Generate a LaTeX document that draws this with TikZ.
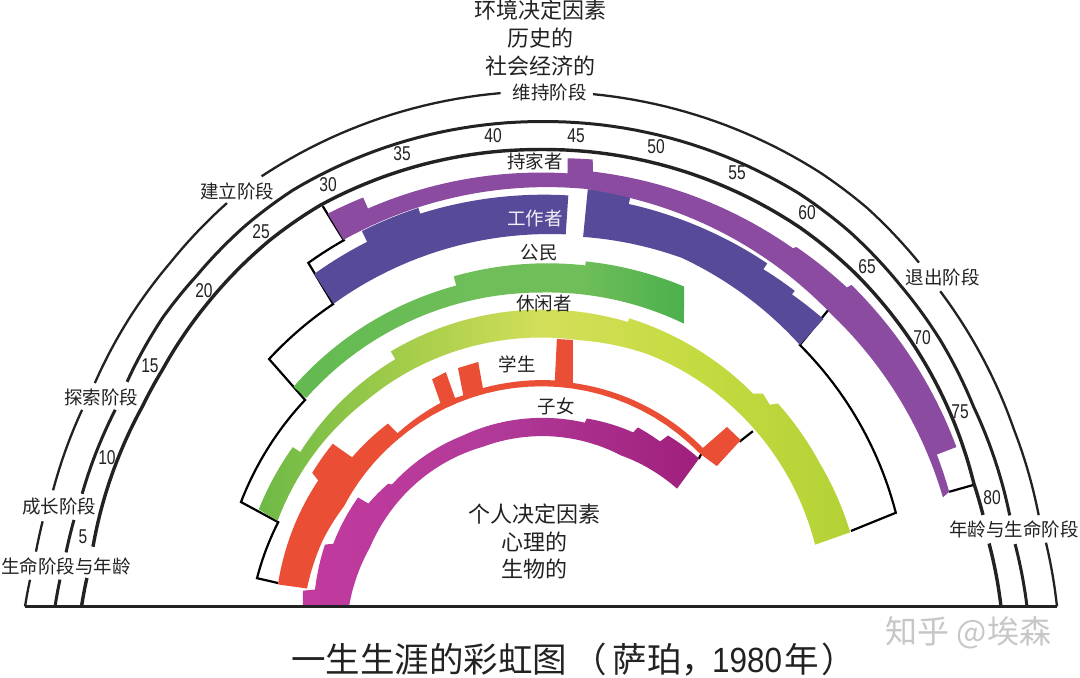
\documentclass[tikz,border=0pt]{standalone}
\usepackage{fontspec}
\setmainfont{Noto Sans CJK SC}
\newfontfamily\numf[FakeStretch=0.78]{Liberation Sans}
\newfontfamily\ttlnum[FakeStretch=0.9]{Liberation Sans}
\newcommand\Sp[4]{-- plot[domain=#1:#2,samples=24] (\x:{#3+(#4-(#3))*(\x-(#1))/((#2)-(#1))})}
\definecolor{leisA}{HTML}{6DB946}
\definecolor{leisB}{HTML}{A2CC4A}
\definecolor{leisC}{HTML}{D3DF5A}
\definecolor{leisD}{HTML}{C6DB42}
\definecolor{leisE}{HTML}{B3D235}
\definecolor{citA}{HTML}{63BA50}
\definecolor{citB}{HTML}{6FBE5A}
\definecolor{citC}{HTML}{4BB04D}
\definecolor{chiA}{HTML}{C23A9E}
\definecolor{chiB}{HTML}{B03A98}
\definecolor{chiC}{HTML}{A01F7C}
\definecolor{homeC}{HTML}{8B4BA0}
\definecolor{workC}{HTML}{574B99}
\definecolor{redC}{HTML}{EA4F36}
\definecolor{inkC}{HTML}{222222}
\pgfdeclarehorizontalshading{leisureS}{100bp}{color(0bp)=(leisA);color(25bp)=(leisA);color(37bp)=(leisB);color(49bp)=(leisC);color(61bp)=(leisD);color(75bp)=(leisE);color(100bp)=(leisE)}
\pgfdeclarehorizontalshading{citizenS}{100bp}{color(0bp)=(citA);color(25bp)=(citA);color(50bp)=(citB);color(62bp)=(citB);color(75bp)=(citC);color(100bp)=(citC)}
\pgfdeclarehorizontalshading{childS}{100bp}{color(0bp)=(chiA);color(25bp)=(chiA);color(50bp)=(chiB);color(75bp)=(chiC);color(100bp)=(chiC)}
\tikzset{
  arcA/.style={draw=inkC,line width=2.3pt,line join=round},
  arcB/.style={draw=inkC,line width=3pt,line join=round},
  arcC/.style={draw=inkC,line width=3.4pt,line join=round},
  edgeL/.style={draw=black,line width=2.2pt,line join=miter},
  lab/.style={inner sep=0pt,text=inkC,font=\fontsize{18.5}{20}\selectfont},
  big/.style={inner sep=0pt,text=inkC,font=\fontsize{22}{24}\selectfont},
  num/.style={inner sep=0pt,text=inkC,font=\numf\fontsize{20}{22}\selectfont},
}
\begin{document}
\begin{tikzpicture}[x=1pt,y=1pt]
\useasboundingbox (0,0) rectangle (1080,-678);
\fill[white] (0,0) rectangle (1080,-678);
\begin{scope}[shift={(541,-606.5)}]
% boundary of life space
\draw[edgeL] (118.6:456) -- (118.3:416) \Sp{118.3}{124.1}{416}{415} -- (124.5:367) \Sp{124.5}{137.7}{367}{367.7} -- (138.8:313.6) \Sp{138.8}{160.8}{313.6}{317.7} -- (162.2:276) \Sp{162.2}{174.3}{276}{285.4} -- (174.9:264);
\draw[edgeL] (45.9:412.6) -- (45.3:368) \Sp{45.3}{14.8}{368}{367} -- (13.7:319);
\draw[edgeL] (15.7:450) -- (15.7:424);
\draw[edgeL] (43.1:216) -- (44:226);
\draw[edgeL] (39.6:275) -- (39.7:258);
% workers
\fill[workC] (124.3:402.5) \Sp{124.3}{115.5}{402.5}{404} -- (115.5:416) \Sp{115.5}{107.1}{416}{417} -- (107.1:411) \Sp{107.1}{86.2}{411}{412} -- (86.2:373) \Sp{86.2}{124.4}{373}{367} -- cycle;
\fill[workC] (83.6:420) \Sp{83.6}{77.7}{420}{420} -- (77.7:412) \Sp{77.7}{56.6}{412}{411} -- (56.6:404) \Sp{56.6}{51.2}{404}{405} -- (51.2:400.5) \Sp{51.2}{45.5}{400.5}{403} -- (45.3:368) \Sp{45.3}{68}{368}{376} \Sp{68}{83.5}{376}{372} -- cycle;
% homemaker
\fill[homeC] (118.5:447) \Sp{118.5}{113.5}{447}{446} -- (113.5:434) \Sp{113.5}{86.5}{434}{434} -- (86.6:449) \Sp{86.6}{83.4}{449}{450} -- (83.2:438) \Sp{83.2}{54.9}{438}{438} -- (54.6:441) \Sp{54.6}{46.2}{441}{442} -- (46:447) \Sp{46}{21}{447}{445} -- (21:424) \Sp{21}{15.7}{424}{424} -- (15.2:416.5) \Sp{15.2}{45}{416.5}{412} \Sp{45}{77}{412}{418} \Sp{77}{84}{418}{420} \Sp{84}{118.3}{420}{416.5} -- cycle;
% citizen
\shade[shading=citizenS] (138.4:331) \Sp{138.4}{104.8}{331}{332} -- (104.8:341.5) \Sp{104.8}{82.6}{341.5}{344} -- (82.6:348) \Sp{82.6}{65.9}{348}{350.5} -- (63.2:317) \Sp{63.2}{90}{317}{314} \Sp{90}{138.4}{314}{314} -- cycle;
% leisure
\shade[shading=leisureS] (161:298.5) \Sp{161}{147.3}{298.5}{295} -- (147.3:286) \Sp{147.3}{120.5}{286}{287} -- (120.5:296) \Sp{120.5}{73}{296}{297.5} -- (73:301.4) \Sp{73}{45.1}{301.4}{300.5} -- (43.8:307.6) -- (41.4:305) -- (40.6:312) \Sp{40.6}{27.1}{312}{313.5} \Sp{27.1}{13.5}{313.5}{318} -- (12.7:281) \Sp{12.7}{67}{281}{274} \Sp{67}{82}{274}{269} \Sp{82}{100}{269}{269} \Sp{100}{130}{269}{270} \Sp{130}{162}{270}{277} -- cycle;
% student
\fill[redC] (175.2:264) \Sp{175.2}{150.5}{264}{256} -- (149.7:265) \Sp{149.7}{142}{265}{264.3} -- (141.7:240.7) \Sp{141.7}{129.9}{240.7}{238.5} -- (129.6:225) \Sp{129.6}{116.3}{225}{227} -- (115.6:252) -- (112.1:253) -- (112.4:225.5) \Sp{112.4}{110.2}{225.5}{225} -- (109.2:252.5) -- (104.4:252.5) -- (104.9:226) \Sp{104.9}{86.5}{226}{226.5} -- (86.6:268) -- (83.2:268.4) -- (81.9:225.8) \Sp{81.9}{44.4}{225.8}{226.6} -- (44:258.5) -- (39.8:260) -- (38.6:225) -- (44:220.5) \Sp{44}{131}{220.5}{220} \Sp{131}{153}{220}{221} \Sp{153}{163}{221}{228} \Sp{163}{175.6}{228}{234.7} -- cycle;
% child
\shade[shading=childS] (180:238) \Sp{180}{176.2}{238}{238.5} -- (175.7:226.6) \Sp{175.7}{164}{226.6}{224.7} -- (163.2:217) \Sp{163.2}{149.2}{217}{213} -- (149.2:201) \Sp{149.2}{141.2}{201}{196} -- (140.7:192.6) \Sp{140.7}{115}{192.6}{188} \Sp{115}{76.6}{188}{189} -- (76.3:193.5) \Sp{76.3}{62.1}{193.5}{197} -- (61.6:203.6) \Sp{61.6}{54.2}{203.6}{203.4} -- (53.4:213) \Sp{53.4}{43.1}{213}{216.5} -- (40.9:180) \Sp{40.9}{62}{180}{171} \Sp{62}{110}{171}{170} \Sp{110}{161}{170}{181} \Sp{161}{180}{181}{192} -- cycle;
% outer arc
\draw[arcA] (180:516) \Sp{180}{177}{516}{511.7};
\draw[arcA] (173.8:508) \Sp{173.8}{170.3}{508}{505.6};
\draw[arcA] (166.6:501.6) \Sp{166.6}{156.8}{501.6}{499.3};
\draw[arcA] (153.4:499) \Sp{153.4}{144.8}{499}{502.7} \Sp{144.8}{137.2}{502.7}{505.6} \Sp{137.2}{127.9}{505.6}{511.3};
\draw[arcA] (123:513) \Sp{123}{94.5}{513}{515};
\draw[arcA] (84.2:515) \Sp{84.2}{57.3}{515}{516} \Sp{57.3}{50.7}{516}{515} \Sp{50.7}{42.3}{515}{511};
\draw[arcA] (38.3:508.7) \Sp{38.3}{30.3}{508.7}{507} \Sp{30.3}{20.5}{507}{505} \Sp{20.5}{10.4}{505}{506};
\draw[arcA] (7.2:509) \Sp{7.2}{0}{509}{516};
% middle arc
\draw[arcB] (180:486) \Sp{180}{176.8}{486}{481.8};
\draw[arcB] (173.5:478) \Sp{173.5}{169.5}{478}{475};
\draw[arcB] (166.2:472.5) \Sp{166.2}{155.2}{472.5}{469};
\draw[arcB] (151.5:471) \Sp{151.5}{142.6}{471}{476} \Sp{142.6}{136.2}{476}{477.5} \Sp{136.2}{128.1}{477.5}{482} \Sp{128.1}{120.8}{482}{484.7} \Sp{120.8}{90}{484.7}{485} \Sp{90}{57.9}{485}{487} \Sp{57.9}{50.5}{487}{485.5} \Sp{50.5}{41.8}{485.5}{482} \Sp{41.8}{33.7}{482}{480} \Sp{33.7}{24.8}{480}{476.5} \Sp{24.8}{11}{476.5}{477.5};
\draw[arcB] (7.5:478.2) \Sp{7.5}{0}{478.2}{486};
% inner arc
\draw[arcC] (180:459.5) \Sp{180}{176.4}{459.5}{455};
\draw[arcC] (172.4:452) \Sp{172.4}{160}{452}{448} \Sp{160}{153.4}{448}{446} \Sp{153.4}{148}{446}{446.5} \Sp{148}{137.2}{446.5}{451} \Sp{137.2}{126.5}{451}{455.8} \Sp{126.5}{118.8}{455.8}{458} \Sp{118.8}{90}{458}{457} \Sp{90}{55.7}{457}{459} \Sp{55.7}{46.7}{459}{458} \Sp{46.7}{35.8}{458}{455.5} \Sp{35.8}{26.6}{455.5}{453} \Sp{26.6}{15.9}{453}{450} \Sp{15.9}{11.7}{450}{451.4};
\draw[arcC] (8:452.5) \Sp{8}{0}{452.5}{460};
\end{scope}
% baseline
\coordinate (baseL) at (25,-606.7);
\coordinate (baseR) at (1057,-606.7);
\draw[draw=inkC,line width=3.2pt,line cap=butt] (baseL) -- (baseR);
% labels
\node[big] (t1) at (540.5,-10) {环境决定因素};
\node[big] (t2) at (540,-38) {历史的};
\node[big] (t3) at (540,-66) {社会经济的};
\node[lab] (stMaint) at (549.5,-92) {维持阶段};
\node[lab] (stEst) at (237,-191) {建立阶段};
\node[lab] (stExpl) at (101,-397) {探索阶段};
\node[lab] (stGrow) at (59.5,-506) {成长阶段};
\node[lab] (stLife) at (66,-566.5) {生命阶段与年龄};
\node[lab] (stExit) at (942.5,-277) {退出阶段};
\node[lab] (stAge) at (1014,-529) {年龄与生命阶段};
\node[lab] (rHome) at (535,-161) {持家者};
\node[lab,text=white!92!workC] (rWork) at (535,-218) {工作者};
\node[lab] (rCit) at (539,-253) {公民};
\node[lab] (rLei) at (544,-303) {休闲者};
\node[lab] (rStu) at (517,-364) {学生};
\node[lab] (rChi) at (556,-406) {子女};
\node[big] (p1) at (534.5,-514) {个人决定因素};
\node[big] (p2) at (534,-542) {心理的};
\node[big] (p3) at (534,-569) {生物的};
\node[num] (n5) at (83,-537) {5};
\node[num] (n10) at (107,-458) {10};
\node[num] (n15) at (150,-366) {15};
\node[num] (n20) at (204,-291) {20};
\node[num] (n25) at (261,-232) {25};
\node[num] (n30) at (328,-185) {30};
\node[num] (n35) at (402,-154) {35};
\node[num] (n40) at (493,-136) {40};
\node[num] (n45) at (576,-136) {45};
\node[num] (n50) at (656,-147) {50};
\node[num] (n55) at (737,-173) {55};
\node[num] (n60) at (807,-213) {60};
\node[num] (n65) at (867,-267) {65};
\node[num] (n70) at (922,-338) {70};
\node[num] (n75) at (960,-412) {75};
\node[num] (n80) at (992,-498) {80};
\node[inner sep=0pt,anchor=west,text=inkC,font=\fontsize{34.5}{36}\selectfont] (title) at (291,-659.5) {一生生涯的彩虹图\kern5pt（\kern6pt萨珀，\kern-4pt{\ttlnum\fontsize{35}{36}\selectfont 1980}\kern2pt年\kern3pt）};
\node[inner sep=0pt,text=black!22,font=\fontsize{32}{34}\selectfont] (wm) at (968.5,-633) {知乎 @埃森};
\end{tikzpicture}
\end{document}
